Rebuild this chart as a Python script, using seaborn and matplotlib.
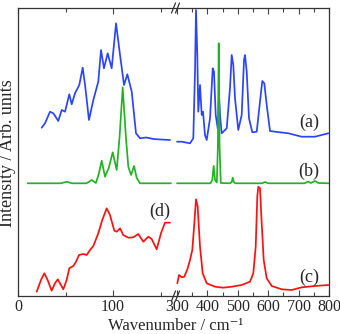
import numpy as np
import pandas as pd
import matplotlib
matplotlib.use("Agg")
import matplotlib.pyplot as plt
import seaborn as sns

# ---- data (intensities in arbitrary, offset units) ----
a_low_x = [24.9, 28.4, 33.7, 37.2, 42.4, 46.0, 49.5, 54.0, 56.5, 60.0, 64.5, 68.1, 70.8, 74.7,
           79.3, 84.5, 87.4, 90.5, 94.4, 98.6, 103.2, 107.4, 111.6, 115.1, 119.7, 124.2, 128.4,
           135.0, 142.4, 150.0, 160.0]
a_low_y = [168.3, 172.7, 184.3, 182.7, 175.0, 186.0, 184.3, 201.7, 191.7, 202.7, 211.0, 228.3,
           209.3, 176.0, 196.0, 214.3, 246.0, 227.7, 242.7, 227.7, 272.7, 241.0, 211.0, 221.7,
           204.3, 162.7, 157.7, 158.5, 157.0, 156.5, 156.0]

a_high_x = [300, 315.5, 342.8, 353.6, 359.2, 362.5, 366.8, 370.0, 375.7, 381.3, 385.5, 392.1,
            397.7, 408.6, 417.4, 421.7, 427.3, 433.9, 438.2, 442.4, 447.0, 463.5, 474.3, 479.9,
            485.2, 490.8, 501.6, 512.8, 520.4, 523.7, 529.3, 536.8, 547.7, 562.2, 573.0, 580.6,
            587.2, 595.1, 605.9, 622.4, 666.1, 710.2, 753.9, 797.7]
a_high_y = [154.3, 154.3, 152.7, 157.7, 224.3, 286.0, 241.0, 184.3, 211.0, 181.0, 184.3, 161.0,
            156.0, 177.7, 227.7, 224.3, 181.0, 167.7, 201.0, 177.7, 162.7, 167.7, 207.7, 241.0,
            231.0, 197.7, 166.0, 181.0, 236.0, 241.0, 224.3, 177.7, 163.7, 164.3, 194.3, 215.0,
            212.7, 191.0, 165.0, 164.3, 162.7, 159.3, 159.3, 162.7]

b_low_x = [10.2, 45.0, 51.2, 57.0, 72.0, 77.6, 82.0, 85.0, 88.1, 91.6, 95.5, 99.7, 103.9,
           107.0, 110.2, 113.5, 116.1, 119.0, 122.1, 125.0, 128.4, 161.0]
b_low_y = [112.7, 112.7, 114.2, 112.7, 112.7, 116.0, 113.0, 122.0, 135.3, 119.3, 128.0, 143.7,
           126.0, 160.0, 208.7, 160.0, 129.3, 121.0, 130.0, 118.0, 112.7, 112.7]

b_high_x = [300, 410.0, 416.0, 420.6, 425.0, 431.0, 434.5, 437.2, 440.0, 444.0, 475.0, 480.0,
            483.2, 487.0, 492.0, 580.0, 589.5, 600.0, 720.0, 731.0, 740.0, 754.0, 765.0, 800.0]
b_high_y = [112.7, 112.7, 116.0, 130.0, 116.0, 113.5, 150.0, 252.7, 150.0, 113.0, 112.7, 114.0,
            118.3, 114.0, 112.7, 112.7, 114.0, 112.7, 112.7, 114.5, 113.0, 115.0, 113.0, 112.7]

c_x = [301.0, 306.6, 315.5, 324.0, 335.2, 342.8, 350.3, 357.0, 362.5, 368.0, 375.7, 384.5,
       397.7, 425.0, 452.3, 479.9, 512.8, 540.1, 551.0, 558.9, 564.1, 567.4, 573.0, 578.6,
       585.2, 595.1, 611.5, 644.4, 677.3, 710.2, 753.9, 797.7]
c_y = [12.7, 21.0, 18.7, 19.3, 27.7, 36.0, 46.0, 72.7, 96.7, 89.3, 49.3, 22.7, 12.7, 9.3, 8.3,
       9.3, 11.0, 14.3, 22.7, 49.3, 99.3, 109.3, 107.7, 72.7, 36.0, 17.7, 10.0, 6.7, 6.0, 8.7,
       10.0, 11.0]

d_x = [19.7, 24.2, 27.7, 31.2, 35.4, 38.9, 41.8, 44.2, 47.7, 51.2, 54.0, 58.2, 61.1, 64.2,
       68.8, 72.3, 75.8, 79.3, 84.5, 88.7, 93.4, 96.8, 101.4, 103.9, 107.4, 110.8, 116.1, 121.4,
       126.6, 131.9, 137.2, 140.7, 146.0, 150.5, 154.7, 160.0]
d_y = [4.3, 16.0, 22.7, 16.0, 5.3, 12.7, 16.7, 12.7, 6.7, 16.0, 27.7, 30.0, 34.3, 41.0, 42.0,
       41.0, 46.0, 50.0, 62.7, 76.0, 87.7, 81.0, 65.3, 64.3, 67.7, 61.0, 58.3, 58.7, 62.0, 54.3,
       59.3, 57.0, 46.7, 62.7, 73.3, 73.3]

low_major = [0, 100]
low_minor = [50, 150]
high_major = [300, 400, 500, 600, 700, 800]
high_minor = [350, 450, 550, 650, 750]

BLUE = "#2b44ff"
GREEN = "#22b322"
RED = "#ff1010"

sns.set_style("ticks")
plt.rcParams["font.family"] = ["Liberation Serif", "DejaVu Serif"]

fig = plt.figure(figsize=(3.4, 3.34), dpi=100)
W, H = 340.0, 334.0
bot, top = 296.0, 8.0
axL = fig.add_axes([18 / W, (H - bot) / H, (174 - 18) / W, (bot - top) / H])
axR = fig.add_axes([175 / W, (H - bot) / H, (329 - 175) / W, (bot - top) / H])

lw = 1.25
sns.lineplot(x=a_low_x, y=a_low_y, ax=axL, color=BLUE, lw=lw, sort=False, estimator=None)
sns.lineplot(x=b_low_x, y=b_low_y, ax=axL, color=GREEN, lw=lw, sort=False, estimator=None)
sns.lineplot(x=d_x, y=d_y, ax=axL, color=RED, lw=lw, sort=False, estimator=None)
sns.lineplot(x=a_high_x, y=a_high_y, ax=axR, color=BLUE, lw=lw, sort=False, estimator=None)
sns.lineplot(x=b_high_x, y=b_high_y, ax=axR, color=GREEN, lw=lw, sort=False, estimator=None)
sns.lineplot(x=c_x, y=c_y, ax=axR, color=RED, lw=lw, sort=False, estimator=None)

axL.set_xlim(0, (174 - 18) / 0.95)
axR.set_xlim(300 - 2 / 0.304, 800)
for ax in (axL, axR):
    ax.set_ylim(0, 288)
    ax.set_yticks([])
    ax.set_ylabel("")
    ax.set_xlabel("")
    ax.tick_params(axis="x", which="both", direction="in", top=True, bottom=True,
                   labelsize=11.5, pad=2, width=0.8, color="#444444")
    ax.tick_params(axis="x", which="major", length=4)
    ax.tick_params(axis="x", which="minor", length=3)
    for s in ax.spines.values():
        s.set_linewidth(0.9)
        s.set_color("#333333")

axL.set_xticks(low_major)
axL.set_xticks(low_minor, minor=True)
axR.set_xticks(high_major)
axR.set_xticks(high_minor, minor=True)
axL.spines["right"].set_visible(False)
axR.spines["left"].set_visible(False)

# break marks
for yy in (top, bot):
    for dx in (-3, 1):
        x0 = 174.5 + dx
        fig.add_artist(plt.Line2D([x0 / W, (x0 + 4) / W], [(H - yy - 5) / H, (H - yy + 5) / H],
                                  color="#333333", lw=0.9))

fig.text(8 / W, (H - 153) / H, "Intensity / Arb. units", rotation=90, ha="center", va="center",
         fontsize=13)
fig.text(176 / W, 0.5 / H, "Wavenumber / cm\u207b\u00b9", ha="center", va="bottom", fontsize=12)

fig.text(309 / W, (H - 122) / H, "(a)", ha="center", va="center", fontsize=13)
fig.text(309 / W, (H - 171) / H, "(b)", ha="center", va="center", fontsize=13)
fig.text(309 / W, (H - 277) / H, "(c)", ha="center", va="center", fontsize=13)
fig.text(160 / W, (H - 211) / H, "(d)", ha="center", va="center", fontsize=13)

fig.savefig("out.png", dpi=100)
